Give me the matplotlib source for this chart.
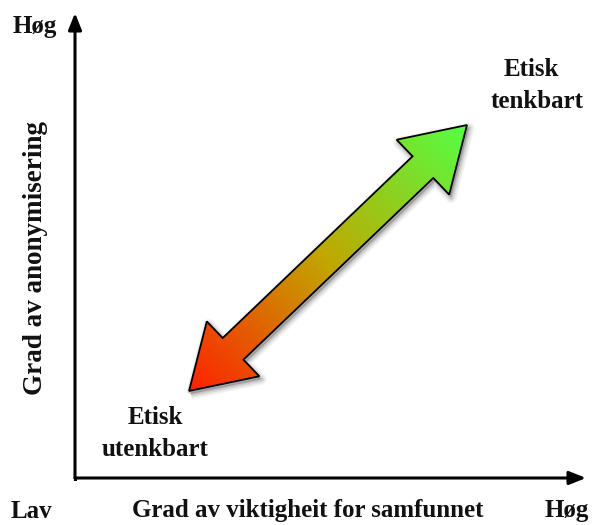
import numpy as np
import matplotlib
matplotlib.use('Agg')
import matplotlib.pyplot as plt
from matplotlib.path import Path
from matplotlib.patches import PathPatch, FancyArrowPatch

# ---- diagram content (pixel coords, y down) ----
axis_origin = (75, 478)
axis_x_end = (586, 478)
axis_y_end = (75, 13)
arrow_tail = (189, 391)      # red end (tip)
arrow_head = (467, 125)      # green end (tip)
shaft_halfwidth = 15
head_halfwidth = 38
head_length = 61
col_start = '#ff2200'
col_mid = '#c0a800'
col_end = '#55ff44'

labels = [
    ('Høg', 35, 27, 0, 18),
    ('Grad av anonymisering', 36, 258, 90, 19.5),
    ('Etisk', 531, 70, 0, 18),
    ('tenkbart', 537, 101, 0, 18),
    ('Etisk', 155, 418, 0, 18),
    ('utenkbart', 155, 449, 0, 18),
    ('Lav', 31, 511, 0, 18),
    ('Grad av viktigheit for samfunnet', 308, 511, 0, 18),
    ('Høg', 567, 511, 0, 18),
]

fig = plt.figure(figsize=(5.95, 5.25), dpi=100)
ax = fig.add_axes([0, 0, 1, 1])
ax.set_xlim(0, 595)
ax.set_ylim(525, 0)
ax.axis('off')

# axes arrows
for end in (axis_x_end, axis_y_end):
    ax.add_patch(FancyArrowPatch(axis_origin, end, arrowstyle='-|>,head_length=10,head_width=4',
                                 mutation_scale=1, lw=2.2, color='black', shrinkA=0, shrinkB=0))
ax.plot([axis_origin[0], axis_origin[0]], [axis_origin[1], axis_origin[1] + 1], color='black', lw=2.2)

# double arrow polygon
p0 = np.array(arrow_tail, float)
p1 = np.array(arrow_head, float)
d = (p1 - p0) / np.linalg.norm(p1 - p0)
n = np.array([-d[1], d[0]])
b0 = p0 + d * head_length
b1 = p1 - d * head_length
pts = [p0,
       b0 + n * head_halfwidth, b0 + n * shaft_halfwidth,
       b1 + n * shaft_halfwidth, b1 + n * head_halfwidth,
       p1,
       b1 - n * head_halfwidth, b1 - n * shaft_halfwidth,
       b0 - n * shaft_halfwidth, b0 - n * head_halfwidth,
       p0]
pts = np.array(pts)
path = Path(pts, closed=True)

# soft shadow
for k, a in enumerate([0.04, 0.05, 0.07, 0.09]):
    sh = PathPatch(Path(pts + np.array([2, 3])), facecolor='none', edgecolor='black',
                   lw=8 - 2 * k, alpha=a, joinstyle='round', zorder=1)
    ax.add_patch(sh)
ax.add_patch(PathPatch(Path(pts + np.array([2, 3])), facecolor='black', edgecolor='none',
                       alpha=0.2, zorder=1))

# gradient fill along the arrow direction
cmap = matplotlib.colors.LinearSegmentedColormap.from_list('rg', [col_start, col_mid, col_end])
X, Y = np.meshgrid(np.arange(150, 500), np.arange(90, 430))
t = ((X - p0[0]) * d[0] + (Y - p0[1]) * d[1]) / np.linalg.norm(p1 - p0)
im = ax.imshow(np.clip(t, 0, 1), cmap=cmap, extent=[150, 500, 430, 90], origin='upper',
               vmin=0, vmax=1, interpolation='bilinear', zorder=2)
fill = PathPatch(path, facecolor='none', edgecolor='none')
ax.add_patch(fill)
im.set_clip_path(fill)
ax.add_patch(PathPatch(path, facecolor='none', edgecolor='black', lw=1.3, joinstyle='miter', zorder=3))
ax.set_xlim(0, 595)
ax.set_ylim(525, 0)

for s, x, y, r, fs in labels:
    ax.text(x, y, s, ha='center', va='center', rotation=r, fontsize=fs,
            fontweight='bold', family='Liberation Serif', color='#111111')

fig.savefig('out.png', dpi=100)
